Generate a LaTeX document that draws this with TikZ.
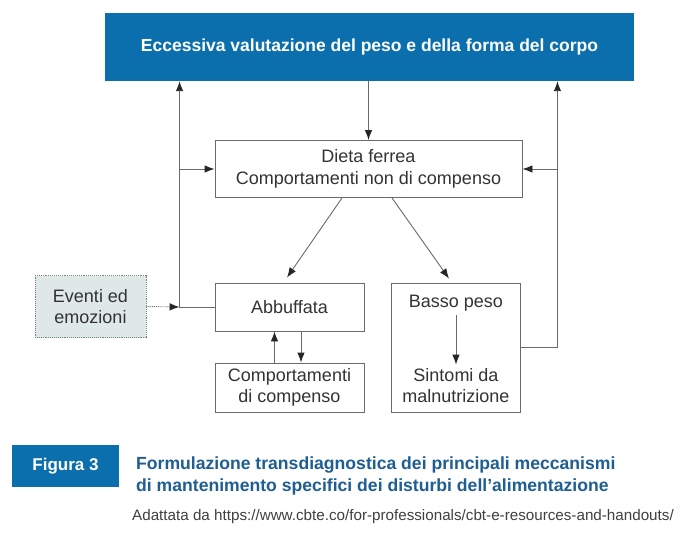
\documentclass[tikz,border=0pt]{standalone}
\usepackage{fontspec}
\setmainfont{Liberation Sans}
\usetikzlibrary{arrows.meta}
\definecolor{blu}{HTML}{0B6FAE}
\definecolor{capblu}{HTML}{1F5E92}
\definecolor{tratto}{HTML}{6A6A6A}
\definecolor{grigino}{HTML}{DDE8E7}
\tikzset{
  box/.style={draw=tratto, line width=0.9pt, inner sep=0pt, align=center, text=black!80, font=\fontsize{18}{21.5}\selectfont},
  testo/.style={align=center, text=black!80, font=\fontsize{18}{21.5}\selectfont},
  freccia/.style={draw=tratto, line width=0.9pt, -{Latex[length=10pt,width=7.5pt,color=black!85]}},
  blubox/.style={fill=blu, text=white, inner sep=0pt}
}
\begin{document}
\begin{tikzpicture}[x=1pt,y=-1pt]
    \path[use as bounding box, fill=white] (0,0) rectangle (694,551);
    \node[blubox, minimum width=529pt, minimum height=68pt, font=\bfseries\fontsize{17.5}{20}\selectfont] (top) at (369.5,47) {Eccessiva valutazione del peso e della forma del corpo};
    \node[box, minimum width=307pt, minimum height=57pt] (dieta) at (368.5,169) {Dieta ferrea\\Comportamenti non di compenso};
    \node[box, minimum width=149pt, minimum height=48pt] (abb) at (289.5,307) {Abbuffata};
    \node[box, minimum width=149pt, minimum height=49pt] (comp) at (289.5,387.5) {Comportamenti\\di compenso};
    \node[box, minimum width=129pt, minimum height=129pt] (basso) at (455.5,347.5) {};
    \node[testo] (peso) at (456,303) {Basso peso};
    \node[testo] (sintomi) at (456,385.5) {Sintomi da\\malnutrizione};
    \node[box, draw=gray, densely dotted, fill=grigino, minimum width=111pt, minimum height=62pt] (eventi) at (90.5,306.5) {Eventi ed\\emozioni};
    \coordinate (sx) at ([xshift=-35pt]abb.west);
    \coordinate (dx) at ([xshift=37pt]basso.east);
    \draw[freccia] (top.south -| dieta.north) -- (dieta.north);
    \draw[freccia] (abb.west) -- (sx) -- (sx |- top.south);
    \draw[freccia] (sx |- dieta.west) -- (dieta.west);
    \draw[freccia, densely dotted] (eventi.east) -- (sx);
    \draw[freccia] (basso.east) -- (dx) -- (dx |- top.south);
    \draw[freccia] (dx |- dieta.east) -- (dieta.east);
    \draw[freccia] ([xshift=-26.5pt]dieta.south) -- ([xshift=-2.5pt,yshift=5pt]abb.north);
    \draw[freccia] ([xshift=23.5pt]dieta.south) -- ([xshift=-6.5pt,yshift=4pt]basso.north);
    \draw[freccia] ([xshift=-15pt]comp.north) -- ([xshift=-15pt]abb.south);
    \draw[freccia] ([xshift=11.5pt]abb.south) -- ([xshift=11.5pt]comp.north);
    \draw[freccia] (peso.south) -- (sintomi.north);
    \node[blubox, minimum width=107pt, minimum height=42pt, font=\bfseries\fontsize{17}{20}\selectfont] (fig) at (65.5,466) {Figura 3};
    \node[anchor=west, align=left, inner sep=0pt, text=capblu, font=\bfseries\fontsize{17.6}{22}\selectfont] (didascalia) at (136,476) {Formulazione transdiagnostica dei principali meccanismi\\di mantenimento specifici dei disturbi dell’alimentazione};
    \node[anchor=west, inner sep=0pt, text=black!75, font=\fontsize{15.2}{16}\selectfont] (fonte) at (132,517) {Adattata da https://www.cbte.co/for-professionals/cbt-e-resources-and-handouts/};
\end{tikzpicture}
\end{document}
